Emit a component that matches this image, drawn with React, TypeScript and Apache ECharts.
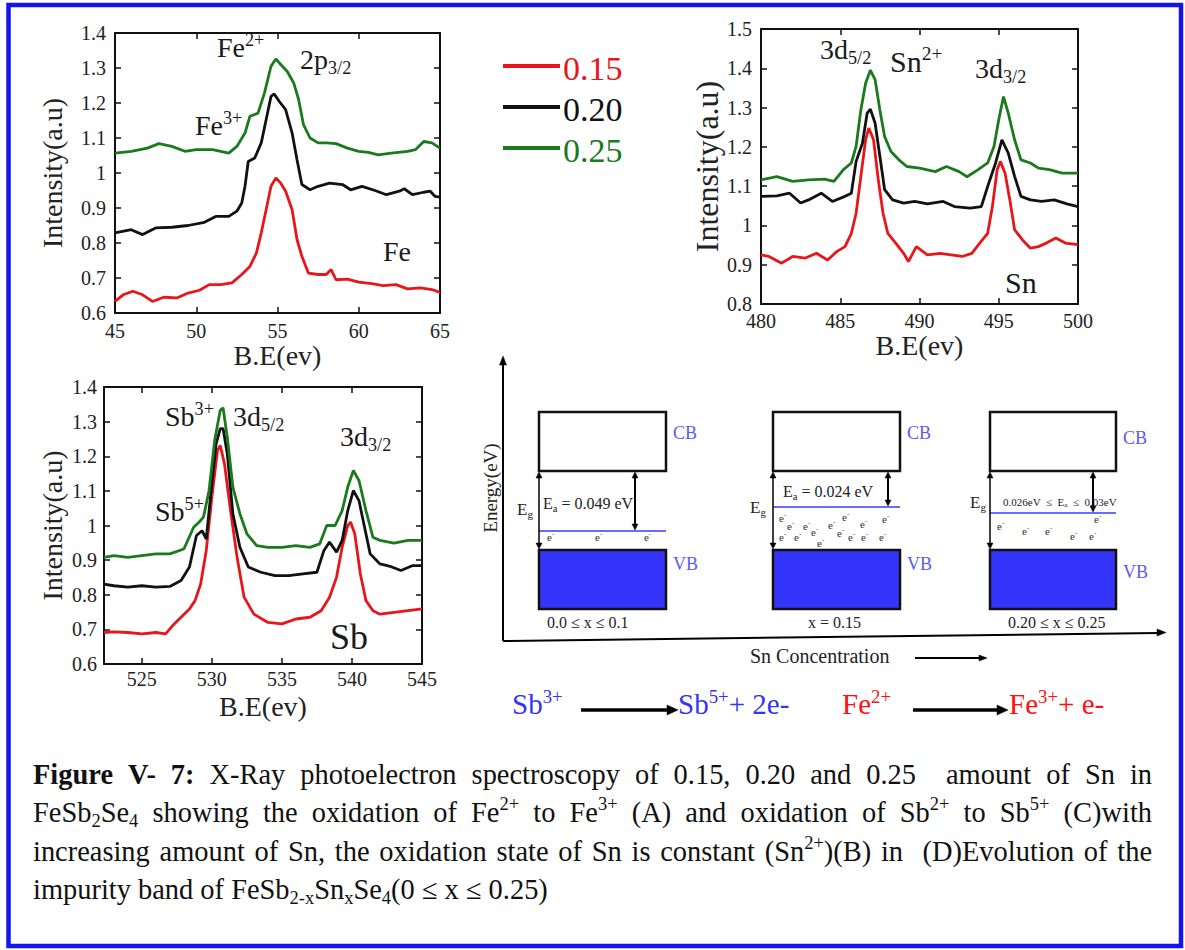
import React, { useEffect, useRef } from 'react';
import * as echarts from 'echarts';

const SERIF = 'Liberation Serif, Times New Roman, serif';
const RED = '#e8151b';
const BLACK = '#111111';
const GREEN = '#1a7a1c';
const BAND_BLUE = '#5b5bf0';

const seriesNames = ['0.15', '0.20', '0.25'];
const seriesColors = [RED, BLACK, GREEN];

// ---- Fe 2p (A) ----
const fe015: [number, number][] = [[45,0.633],[45.5,0.652],[46.1,0.662],[46.7,0.652],[47.3,0.633],[48,0.645],[48.8,0.643],[49.5,0.657],[50.2,0.665],[50.8,0.681],[51.5,0.681],[52.2,0.686],[52.8,0.71],[53.3,0.733],[53.7,0.771],[54,0.829],[54.3,0.895],[54.6,0.962],[54.9,0.986],[55.2,0.971],[55.5,0.948],[55.9,0.895],[56.2,0.81],[56.5,0.762],[56.9,0.714],[57.5,0.71],[58,0.71],[58.3,0.724],[58.6,0.695],[59.3,0.697],[60,0.688],[60.8,0.684],[61.5,0.678],[62.3,0.681],[63,0.669],[63.8,0.672],[64.5,0.667],[65,0.659]];
const fe020: [number, number][] = [[45,0.829],[46,0.838],[46.7,0.824],[47.5,0.843],[48.5,0.845],[49.5,0.85],[50.5,0.859],[51.2,0.876],[52,0.876],[52.5,0.891],[52.8,0.914],[53,0.962],[53.2,1.033],[53.6,1.043],[54,1.086],[54.3,1.152],[54.6,1.219],[54.8,1.226],[55.1,1.205],[55.5,1.181],[55.9,1.114],[56.2,1.038],[56.5,0.967],[57,0.952],[57.5,0.962],[58.2,0.971],[59,0.967],[59.5,0.952],[60.2,0.962],[61,0.95],[61.7,0.938],[62.5,0.948],[62.8,0.955],[63.3,0.938],[64,0.945],[64.4,0.948],[64.7,0.933],[65,0.931]];
const fe025: [number, number][] = [[45,1.057],[46,1.062],[47,1.071],[47.7,1.084],[48.5,1.076],[49.3,1.062],[50,1.067],[51,1.067],[52,1.057],[52.5,1.076],[53,1.114],[53.3,1.162],[53.8,1.171],[54.2,1.229],[54.6,1.305],[54.9,1.326],[55.2,1.31],[55.6,1.29],[56,1.257],[56.3,1.21],[56.6,1.138],[57,1.1],[57.5,1.086],[58,1.086],[58.6,1.084],[59.3,1.071],[60,1.062],[60.6,1.059],[61.2,1.052],[62,1.057],[63,1.062],[63.5,1.067],[64,1.09],[64.5,1.086],[65,1.071]];

// ---- Sn 3d (B) ----
const sn015: [number, number][] = [[480,0.925],[480.5,0.921],[481.3,0.904],[482,0.921],[482.8,0.917],[483.5,0.929],[484.2,0.912],[484.8,0.934],[485.3,0.946],[485.7,0.98],[486,1.031],[486.3,1.125],[486.6,1.218],[486.8,1.248],[487.1,1.218],[487.4,1.116],[487.7,1.031],[488,0.98],[488.5,0.955],[489,0.929],[489.3,0.908],[489.8,0.946],[490.5,0.925],[491.3,0.929],[492,0.925],[492.7,0.921],[493.3,0.929],[493.8,0.955],[494.3,0.98],[494.6,1.048],[494.9,1.142],[495.1,1.163],[495.4,1.133],[495.7,1.065],[496,0.989],[496.5,0.963],[497,0.942],[497.5,0.946],[498,0.955],[498.6,0.968],[499.2,0.955],[500,0.951]];
const sn020: [number, number][] = [[480,1.074],[481,1.075],[481.8,1.082],[482.5,1.057],[483,1.065],[483.8,1.082],[484.5,1.061],[485.3,1.074],[485.7,1.082],[486,1.163],[486.4,1.209],[486.7,1.286],[486.9,1.296],[487.2,1.26],[487.5,1.176],[487.8,1.091],[488.3,1.065],[489,1.057],[489.7,1.061],[490.5,1.055],[491.5,1.061],[492.2,1.048],[493.2,1.044],[493.9,1.048],[494.3,1.099],[494.8,1.159],[495.2,1.218],[495.6,1.184],[496,1.125],[496.4,1.074],[497,1.065],[497.7,1.061],[498.5,1.065],[499.3,1.055],[500,1.048]];
const sn025: [number, number][] = [[480,1.116],[481,1.124],[482,1.112],[483,1.116],[484,1.118],[484.6,1.112],[485.2,1.142],[485.7,1.159],[486,1.201],[486.3,1.294],[486.6,1.362],[486.9,1.395],[487.2,1.371],[487.5,1.294],[487.8,1.226],[488.2,1.188],[488.7,1.167],[489.2,1.15],[490,1.146],[491,1.137],[491.7,1.15],[492.5,1.137],[493,1.124],[493.7,1.142],[494.3,1.159],[494.7,1.201],[495,1.269],[495.3,1.328],[495.6,1.286],[496,1.218],[496.4,1.167],[497,1.159],[497.5,1.146],[498.2,1.142],[499,1.133],[500,1.133]];

// ---- Sb 3d (C) ----
const sb015: [number, number][] = [[522.3,0.691],[523,0.693],[524,0.691],[525,0.687],[526,0.691],[526.7,0.687],[527.2,0.711],[527.8,0.735],[528.4,0.759],[528.8,0.783],[529.2,0.831],[529.6,0.928],[530,1.082],[530.4,1.217],[530.6,1.231],[530.9,1.178],[531.3,1.053],[531.8,0.908],[532.3,0.793],[533,0.744],[534,0.72],[535,0.716],[536,0.73],[537,0.735],[537.8,0.754],[538.4,0.793],[538.9,0.851],[539.3,0.937],[539.7,1.0],[539.9,1.01],[540.2,0.976],[540.6,0.86],[541,0.783],[541.5,0.754],[542,0.744],[543,0.749],[544,0.754],[545,0.759]];
const sb020: [number, number][] = [[522.3,0.831],[523,0.826],[524,0.822],[525,0.826],[526,0.822],[527,0.824],[527.8,0.841],[528.4,0.88],[528.9,0.971],[529.3,0.985],[529.6,0.961],[529.9,1.082],[530.3,1.236],[530.6,1.28],[530.8,1.28],[531.1,1.207],[531.5,1.034],[532,0.937],[532.6,0.88],[533.5,0.865],[534.5,0.855],[535.5,0.855],[536.5,0.86],[537.5,0.865],[538,0.928],[538.4,0.952],[538.9,0.923],[539.3,0.957],[539.7,1.043],[540.1,1.101],[540.5,1.072],[540.9,0.995],[541.3,0.918],[542,0.889],[542.8,0.881],[543.5,0.87],[544.3,0.884],[545,0.884]];
const sb025: [number, number][] = [[522.3,0.908],[523,0.913],[524,0.908],[525,0.913],[526,0.918],[527,0.918],[528,0.932],[528.7,0.995],[529.1,1.01],[529.4,1.024],[529.8,1.101],[530.2,1.246],[530.6,1.333],[530.8,1.34],[531.1,1.255],[531.5,1.111],[532,1.034],[532.5,0.976],[533.2,0.942],[534,0.937],[535,0.937],[536,0.942],[537,0.937],[537.7,0.947],[538.2,1.0],[538.8,1.0],[539.3,1.043],[539.7,1.111],[540.1,1.159],[540.5,1.13],[541,1.043],[541.5,0.966],[542,0.957],[543,0.949],[544,0.957],[545,0.957]];

const feXTicks = [45, 50, 55, 60, 65];
const snXTicks = [480, 485, 490, 495, 500];
const sbXTicks = [525, 530, 535, 540, 545];
const feYTicks = [0.6, 0.7, 0.8, 0.9, 1, 1.1, 1.2, 1.3, 1.4];
const snYTicks = [0.8, 0.9, 1, 1.1, 1.2, 1.3, 1.4, 1.5];
const sbYTicks = [0.6, 0.7, 0.8, 0.9, 1, 1.1, 1.2, 1.3, 1.4];

type SegKind = 'n' | 'b' | 'sup' | 'sub';
type Seg = [string, SegKind];

let measureCtx: CanvasRenderingContext2D | null = null;
function measure(text: string, size: number, bold: boolean) {
  if (!measureCtx) measureCtx = document.createElement('canvas').getContext('2d');
  measureCtx!.font = `${bold ? 'bold ' : ''}${size}px ${SERIF}`;
  return measureCtx!.measureText(text).width;
}

function segSize(kind: SegKind, size: number) {
  return kind === 'sup' || kind === 'sub' ? size * 0.65 : size;
}
function segsWidth(segs: Seg[], size: number) {
  return segs.reduce((w, [t, k]) => w + measure(t, segSize(k, size), k === 'b'), 0);
}
function run(x: number, baseline: number, segs: Seg[], size: number, color: string, supRaise = 0.38): any[] {
  const els: any[] = [];
  let cx = x;
  for (const [t, k] of segs) {
    const s = segSize(k, size);
    const by = k === 'sup' ? baseline - size * supRaise : k === 'sub' ? baseline + size * 0.17 : baseline;
    els.push({
      type: 'text', x: cx, y: by - 0.34 * s, silent: true,
      style: {
        text: t, fill: color, fontSize: s, fontFamily: SERIF, fontWeight: k === 'b' ? 'bold' : 'normal',
        align: 'left', verticalAlign: 'middle', textAlign: 'left', textVerticalAlign: 'middle',
      },
    });
    cx += measure(t, s, k === 'b');
  }
  return els;
}

function P(s: string): Seg[] { return s ? [[s, 'n']] : []; }
function B(s: string): Seg[] { return [[s, 'b']]; }

const captionLines: Seg[][][] = [
  [B('Figure'), B('V-'), B('7:'), P('X-Ray'), P('photoelectron'), P('spectroscopy'), P('of'), P('0.15,'), P('0.20'), P('and'), P('0.25'), P(''), P('amount'), P('of'), P('Sn'), P('in')],
  [[['FeSb', 'n'], ['2', 'sub'], ['Se', 'n'], ['4', 'sub']], P('showing'), P('the'), P('oxidation'), P('of'), [['Fe', 'n'], ['2+', 'sup']], P('to'), [['Fe', 'n'], ['3+', 'sup']], P('(A)'), P('and'), P('oxidation'), P('of'), [['Sb', 'n'], ['2+', 'sup']], P('to'), [['Sb', 'n'], ['5+', 'sup']], P('(C)with')],
  [P('increasing'), P('amount'), P('of'), P('Sn,'), P('the'), P('oxidation'), P('state'), P('of'), P('Sn'), P('is'), P('constant'), [['(Sn', 'n'], ['2+', 'sup'], [')(B)', 'n']], P('in'), P(''), P('(D)Evolution'), P('of'), P('the')],
  [P('impurity'), P('band'), P('of'), [['FeSb', 'n'], ['2-x', 'sub'], ['Sn', 'n'], ['x', 'sub'], ['Se', 'n'], ['4', 'sub'], ['(0', 'n']], P('≤'), P('x'), P('≤'), P('0.25)')],
];

function arrowHead(x: number, y: number, dir: 'up' | 'down' | 'right', len: number, half: number, color = '#000') {
  let pts: number[][];
  if (dir === 'up') pts = [[x, y], [x - half, y + len], [x + half, y + len]];
  else if (dir === 'down') pts = [[x, y], [x - half, y - len], [x + half, y - len]];
  else pts = [[x, y], [x - len, y - half], [x - len, y + half]];
  return { type: 'polygon', silent: true, shape: { points: pts }, style: { fill: color, stroke: color, lineWidth: 0.5 } };
}
function vline(x: number, y1: number, y2: number, w: number, color = '#000') {
  return { type: 'line', silent: true, shape: { x1: x, y1, x2: x, y2 }, style: { stroke: color, lineWidth: w } };
}
function dblArrow(x: number, y1: number, y2: number, w: number) {
  return [vline(x, y1 + 5, y2 - 5, w), arrowHead(x, y1, 'up', 6, 3), arrowHead(x, y2, 'down', 6, 3)];
}

function buildGraphics(): any[] {
  const g: any[] = [];
  // border
  g.push({ type: 'rect', silent: true, shape: { x: 8.5, y: 5, width: 1172.5, height: 941 }, style: { fill: 'none', stroke: '#1414ee', lineWidth: 4.5 } });

  // legend
  const legY = [66, 107, 148];
  seriesNames.forEach((n, i) => {
    g.push({ type: 'line', silent: true, shape: { x1: 503, y1: legY[i], x2: 560, y2: legY[i] }, style: { stroke: seriesColors[i], lineWidth: 4 } });
    g.push({ type: 'text', x: 563, y: legY[i] + 2, silent: true, style: { text: n, fill: seriesColors[i], fontSize: 34, fontFamily: SERIF, align: 'left', verticalAlign: 'middle', textAlign: 'left', textVerticalAlign: 'middle' } });
  });

  const dark = '#1a1a1a';
  // plot A annotations
  g.push(...run(217, 57, [['Fe', 'n'], ['2+', 'sup']], 28, dark));
  g.push(...run(300, 69, [['2p', 'n'], ['3/2', 'sub']], 28, dark));
  g.push(...run(195, 135, [['Fe', 'n'], ['3+', 'sup']], 28, dark));
  g.push(...run(383, 261, [['Fe', 'n']], 28, dark));
  // plot B annotations
  g.push(...run(820, 59, [['3d', 'n'], ['5/2', 'sub']], 28, dark));
  g.push(...run(890, 72, [['Sn', 'n'], ['2+', 'sup']], 30, dark));
  g.push(...run(975, 78, [['3d', 'n'], ['3/2', 'sub']], 28, dark));
  g.push(...run(1005, 293, [['Sn', 'n']], 30, dark));
  // plot C annotations
  g.push(...run(165, 426, [['Sb', 'n'], ['3+', 'sup']], 28, dark));
  g.push(...run(233, 426, [['3d', 'n'], ['5/2', 'sub']], 28, dark));
  g.push(...run(340, 446, [['3d', 'n'], ['3/2', 'sub']], 28, dark));
  g.push(...run(155, 521, [['Sb', 'n'], ['5+', 'sup']], 28, dark));
  g.push(...run(330, 649, [['Sb', 'n']], 36, dark));

  // band diagram axes
  g.push({ type: 'line', silent: true, shape: { x1: 503, y1: 641, x2: 503, y2: 364 }, style: { stroke: '#000', lineWidth: 2 } });
  g.push(arrowHead(503, 356, 'up', 9, 3.5));
  g.push({ type: 'line', silent: true, shape: { x1: 503, y1: 641, x2: 1158, y2: 633 }, style: { stroke: '#000', lineWidth: 2 } });
  g.push(arrowHead(1166, 632.5, 'right', 9, 3.5));
  g.push({ type: 'text', x: 490, y: 488, rotation: Math.PI / 2, silent: true, style: { text: 'Energy(eV)', fill: '#222', fontSize: 19, fontFamily: SERIF, align: 'center', verticalAlign: 'middle', textAlign: 'center', textVerticalAlign: 'middle' } });
  g.push(...run(750, 663, [['Sn Concentration', 'n']], 20, '#222'));
  g.push({ type: 'line', silent: true, shape: { x1: 915, y1: 658, x2: 980, y2: 658 }, style: { stroke: '#000', lineWidth: 2 } });
  g.push(arrowHead(987, 658, 'right', 8, 3));

  const boxes = [
    { x: 539, w: 127, imp: 531, ea: 635, egX: 517, egB: 515, cbY: 433, vbY: 564, lab: '0.0 ≤ x ≤ 0.1', labX: 547 },
    { x: 773, w: 127, imp: 507, ea: 888, egX: 750, egB: 513, cbY: 433, vbY: 564, lab: 'x = 0.15', labX: 808 },
    { x: 990, w: 126, imp: 513, ea: 1093, egX: 970, egB: 508, cbY: 438, vbY: 572, lab: '0.20 ≤ x ≤ 0.25', labX: 1008 },
  ];
  boxes.forEach((b) => {
    g.push({ type: 'rect', silent: true, shape: { x: b.x, y: 412, width: b.w, height: 59 }, style: { fill: '#fff', stroke: '#111', lineWidth: 2.5 } });
    g.push({ type: 'rect', silent: true, shape: { x: b.x, y: 550, width: b.w, height: 59 }, style: { fill: '#3434fb', stroke: '#111', lineWidth: 2.5 } });
    g.push({ type: 'line', silent: true, shape: { x1: b.x, y1: b.imp, x2: b.x + b.w, y2: b.imp }, style: { stroke: '#6b6bff', lineWidth: 2 } });
    g.push(...dblArrow(b.x, 472, 549, 1.5));
    g.push(...dblArrow(b.ea, 472, b.imp - 1, 2));
    g.push(...run(b.egX, b.egB, [['E', 'n'], ['g', 'sub']], 17, '#222'));
    g.push(...run(b.x + b.w + 7, b.cbY + 6, [['CB', 'n']], 18, BAND_BLUE));
    g.push(...run(b.x + b.w + 7, b.vbY + 6, [['VB', 'n']], 18, BAND_BLUE));
    g.push(...run(b.labX, 628, [[b.lab, 'n']], 16, '#222'));
  });
  g.push(...run(543, 509, [['E', 'n'], ['a', 'sub'], [' = 0.049 eV', 'n']], 16, '#222'));
  g.push(...run(783, 497, [['E', 'n'], ['a', 'sub'], [' = 0.024 eV', 'n']], 16, '#222'));
  g.push(...run(1003, 506, [['0.026eV  ≤  E', 'n'], ['a', 'sub'], ['  ≤  0.03eV', 'n']], 11, '#222'));

  const electrons: [number, number][] = [
    [550, 538], [598, 538], [647, 538],
    [782, 519], [790, 527], [806, 527], [814, 533], [831, 526], [845, 518], [840, 534], [851, 538], [863, 525], [885, 520], [782, 538], [797, 538], [820, 544], [864, 538], [882, 538],
    [1000, 527], [1025, 532], [1048, 532], [1073, 537], [1092, 537], [1097, 520],
  ];
  electrons.forEach(([ex, ey]) => g.push(...run(ex - 3, ey + 3, [['e', 'n'], ['-', 'sup']], 11, '#333')));

  // reactions
  const rb = 714;
  const sbBlue = '#3434f4';
  const feRed = '#ff1010';
  g.push(...run(512, rb, [['Sb', 'n'], ['3+', 'sup']], 29, sbBlue));
  g.push({ type: 'line', silent: true, shape: { x1: 581, y1: 710, x2: 668, y2: 710 }, style: { stroke: '#000', lineWidth: 3.5 } });
  g.push(arrowHead(678, 710, 'right', 11, 5));
  g.push(...run(678, rb, [['Sb', 'n'], ['5+', 'sup'], ['+ 2e-', 'n']], 29, sbBlue));
  g.push(...run(842, rb, [['Fe', 'n'], ['2+', 'sup']], 29, feRed));
  g.push({ type: 'line', silent: true, shape: { x1: 913, y1: 710, x2: 998, y2: 710 }, style: { stroke: '#000', lineWidth: 3.5 } });
  g.push(arrowHead(1008, 710, 'right', 11, 5));
  g.push(...run(1009, rb, [['Fe', 'n'], ['3+', 'sup'], ['+ e-', 'n']], 29, feRed));

  // caption
  const capLeft = 33, capRight = 1152;
  const line4Width1 = (() => {
    const words = captionLines[3];
    const sp = measure(' ', 100, false);
    return (words.reduce((w, wd) => w + segsWidth(wd, 100), 0) + sp * (words.length - 1)) / 100;
  })();
  const cs = Math.min(30, Math.max(18, 515 / line4Width1));
  const baselines = [784, 822, 861, 899];
  captionLines.forEach((words, li) => {
    const widths = words.map((wd) => segsWidth(wd, cs));
    const sum = widths.reduce((a, b) => a + b, 0);
    const gap = li < 3 ? (capRight - capLeft - sum) / (words.length - 1) : measure(' ', cs, false);
    let x = capLeft;
    words.forEach((wd, wi) => {
      if (wd.length) g.push(...run(x, baselines[li], wd, cs, '#111', 0.42));
      x += widths[wi] + gap;
    });
  });
  return g;
}

function xAxes(gridIndex: number, min: number, max: number, ticks: number[], name: string, nameGap: number, labelMargin: number) {
  const line = { show: true, lineStyle: { color: '#111', width: 2 } };
  return [
    {
      type: 'value', gridIndex, position: 'bottom', min, max, name, nameLocation: 'middle', nameGap,
      nameTextStyle: { fontFamily: SERIF, fontSize: 28, color: '#222' },
      axisLine: line, splitLine: { show: false },
      axisTick: { show: true, inside: true, length: 6, customValues: ticks, lineStyle: { color: '#111', width: 1.5 } },
      axisLabel: { show: true, customValues: ticks, margin: labelMargin, fontFamily: SERIF, fontSize: 20, color: '#222' },
    },
    {
      type: 'value', gridIndex, position: 'top', min, max,
      axisLine: line, splitLine: { show: false },
      axisTick: { show: true, inside: true, length: 6, customValues: ticks, lineStyle: { color: '#111', width: 1.5 } },
      axisLabel: { show: false },
    },
  ];
}
function yAxes(gridIndex: number, min: number, max: number, ticks: number[], nameGap: number, nameSize: number, labelMargin: number) {
  const line = { show: true, lineStyle: { color: '#111', width: 2 } };
  return [
    {
      type: 'value', gridIndex, position: 'left', min, max, name: 'Intensity(a.u)', nameLocation: 'middle', nameGap,
      nameTextStyle: { fontFamily: SERIF, fontSize: nameSize, color: '#222' },
      axisLine: line, splitLine: { show: false },
      axisTick: { show: true, inside: true, length: 6, customValues: ticks, lineStyle: { color: '#111', width: 1.5 } },
      axisLabel: { show: true, customValues: ticks, margin: labelMargin, fontFamily: SERIF, fontSize: 20, color: '#222', formatter: (v: number) => String(+(+v).toFixed(1)) },
    },
    {
      type: 'value', gridIndex, position: 'right', min, max,
      axisLine: line, splitLine: { show: false },
      axisTick: { show: true, inside: true, length: 6, customValues: ticks, lineStyle: { color: '#111', width: 1.5 } },
      axisLabel: { show: false },
    },
  ];
}

export default function App() {
  const ref = useRef<HTMLDivElement>(null);
  useEffect(() => {
    if (!ref.current) return;
    const chart = echarts.init(ref.current, null, { renderer: 'svg' });
    const plotData = [[fe015, fe020, fe025], [sn015, sn020, sn025], [sb015, sb020, sb025]];
    const series: any[] = [];
    plotData.forEach((group, gi) => {
      group.forEach((d, si) => {
        series.push({
          type: 'line', name: seriesNames[si], xAxisIndex: gi * 2, yAxisIndex: gi * 2, data: d,
          showSymbol: false, symbol: 'none', clip: true,
          lineStyle: { color: seriesColors[si], width: 2.8 }, itemStyle: { color: seriesColors[si] },
        });
      });
    });
    chart.setOption({
      animation: false,
      backgroundColor: '#ffffff',
      textStyle: { fontFamily: SERIF },
      grid: [
        { left: 115, top: 33, width: 325, height: 280 },
        { left: 761, top: 29, width: 317, height: 275 },
        { left: 104, top: 387, width: 318, height: 277 },
      ],
      xAxis: [
        ...xAxes(0, 45, 65, feXTicks, 'B.E(ev)', 19, 8),
        ...xAxes(1, 480, 500, snXTicks, 'B.E(ev)', 19, 7),
        ...xAxes(2, 522.3, 545, sbXTicks, 'B.E(ev)', 28, 5),
      ],
      yAxis: [
        ...yAxes(0, 0.6, 1.4, feYTicks, 49, 28, 9),
        ...yAxes(1, 0.8, 1.5, snYTicks, 36, 32, 9),
        ...yAxes(2, 0.6, 1.4, sbYTicks, 38, 28, 7),
      ],
      series,
      graphic: { elements: buildGraphics() },
    });
    return () => chart.dispose();
  }, []);
  return <div ref={ref} style={{ position: 'fixed', left: 0, top: 0, width: 1185, height: 950, background: '#fff' }} />;
}
